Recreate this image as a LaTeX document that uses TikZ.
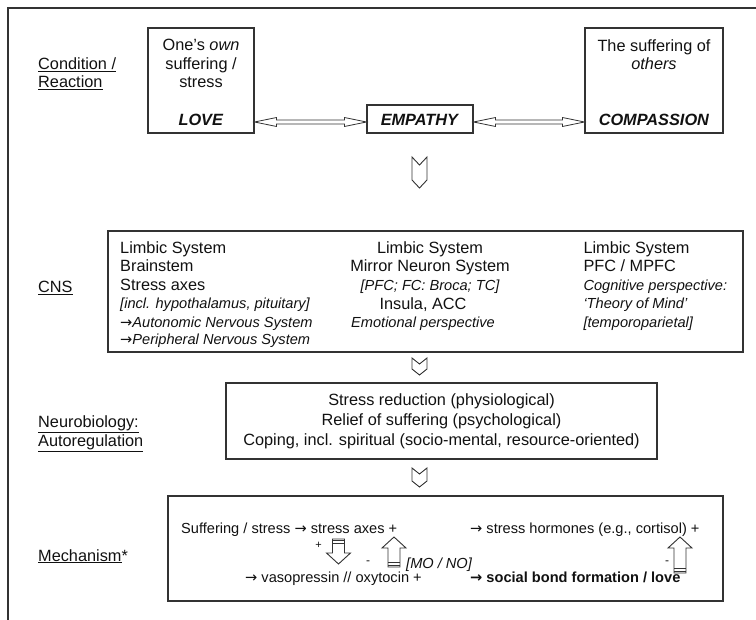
\documentclass[tikz,border=0pt]{standalone}
\usepackage{fontspec}
\setmainfont{Liberation Sans}
\newfontfamily\arrfont{DejaVu Sans}
\usetikzlibrary{calc}
\definecolor{ink}{HTML}{111111}
\definecolor{edge}{HTML}{333333}
\newcommand\mysmit{\fontsize{14.6}{18.6}\selectfont\itshape}
\newcommand\myarr{{\arrfont\char"2192}}
\tikzset{
  pics/blkarrow/.style={code={
    \draw[edge, line width=0.9pt, fill=white] (0,0) -- (12,11) -- (6,11) -- (6,#1) -- (-6,#1) -- (-6,11) -- (-12,11) -- cycle;
    \draw[edge, line width=1.5pt] (-6,#1-1.5) -- (6,#1-1.5) (-6,#1-4.5) -- (6,#1-4.5);
  }},
  pics/chev/.style 2 args={code={
    \draw[edge, line width=0.9pt, fill=white] (-7.5,-#1) -- (0,-#1+#2) -- (7.5,-#1) -- (7.5,#1-#2) -- (0,#1) -- (-7.5,#1-#2) -- cycle;
  }},
}
\begin{document}
\begin{tikzpicture}[x=1pt,y=-1pt,
  box/.style={draw=edge, line width=1.1pt, inner sep=0pt},
  txt/.style={inner sep=0pt, text=ink, font=\fontsize{16.3}{18.6}\selectfont},
  mtxt/.style={inner sep=0pt, text=ink, font=\fontsize{14.6}{18}\selectfont},
  dbl/.style={draw=edge, line width=0.8pt, fill=white},
]
\useasboundingbox (0,0) rectangle (756,620);
\draw[edge, line width=1.3pt] (756,8) -- (8,8) -- (8,620);

% boxes
\node[box, minimum width=106, minimum height=105] (love) at (201,80.5) {};
\node[box, minimum width=106, minimum height=28] (emp) at (420,119) {};
\node[box, minimum width=138, minimum height=105] (comp) at (654,80.5) {};
\node[box, minimum width=635, minimum height=121] (cns) at (425.5,291.5) {};
\node[box, minimum width=431, minimum height=76] (neuro) at (441.5,421) {};
\node[box, minimum width=555, minimum height=105] (mech) at (445.5,548.5) {};

% side labels
\node[txt, anchor=north west, align=left] (lcond) at (38,57.3) {\underline{Condition /}\\\underline{Reaction}};
\node[txt, anchor=north west] (lcns) at (38,281) {\underline{CNS}};
\node[txt, anchor=north west, align=left, font=\fontsize{16.3}{19}\selectfont] (lneuro) at (38,415) {\underline{Neurobiology:}\\\underline{Autoregulation}};
\node[txt, anchor=north west] (lmech) at (38,549) {\underline{Mechanism}*};

% top row texts
\node[txt, anchor=north, align=center] (lovet) at (201,39) {One’s \textit{own}\\suffering /\\stress};
\node[txt] (lovel) at (201,120) {\textbf{\textit{LOVE}}};
\node[txt] (empl) at (420,120) {\textbf{\textit{EMPATHY}}};
\node[txt, anchor=north, align=center] (compt) at (654,39) {The suffering of\\\textit{others}};
\node[txt] (compl) at (654,120) {\textbf{\textit{COMPASSION}}};

% double arrows
\path (love.east |- emp.west) ++(0,3) coordinate (a1);
\path (emp.west) ++(0,3) coordinate (a2);
\path (emp.east) ++(0,3) coordinate (b1);
\path (comp.west |- emp.east) ++(0,3) coordinate (b2);
\draw[dbl] (a1) -- ++(22,-4.5) -- ++(0,2.5) -- ($(a2)+(-22,-2)$) -- ++(0,-2.5) -- (a2) -- ++(-22,4.5) -- ++(0,-2.5) -- ($(a1)+(22,2)$) -- ++(0,2.5) -- cycle;
\draw[dbl] (b1) -- ++(22,-4.5) -- ++(0,2.5) -- ($(b2)+(-22,-2)$) -- ++(0,-2.5) -- (b2) -- ++(-22,4.5) -- ++(0,-2.5) -- ($(b1)+(22,2)$) -- ++(0,2.5) -- cycle;

% chevrons
\pic at (419.5,172.5) {chev={15.5}{8}};
\pic at (419.5,366.5) {chev={8.5}{6}};
\pic at (419.5,477.5) {chev={9.5}{6}};

% CNS texts
\node[txt, anchor=north west, align=left] (c1) at (120,241) {Limbic System\\Brainstem\\Stress axes\\{\mysmit [incl. hypothalamus, pituitary]}\\{\mysmit \myarr Autonomic Nervous System}\\[-2pt]{\mysmit \myarr Peripheral Nervous System}};
\node[txt, anchor=north, align=center] (c2a) at (430,241) {Limbic System\\Mirror Neuron System\\{\mysmit [PFC; FC: Broca; TC]}};
\node[txt, anchor=north, align=center] (c2b) at (423,297) {Insula, ACC\\{\mysmit Emotional perspective}};
\node[txt, anchor=north west, align=left] (c3) at (583.3,241) {Limbic System\\PFC / MPFC\\{\mysmit Cognitive perspective:}\\{\mysmit ‘Theory of Mind’}\\{\mysmit [temporoparietal]}};

% neuro texts
\node[txt, anchor=north, align=center, font=\fontsize{16.3}{20}\selectfont] (nt) at (441.5,393) {Stress reduction (physiological)\\Relief of suffering (psychological)\\Coping, incl. spiritual (socio-mental, resource-oriented)};

% mechanism texts
\node[mtxt, anchor=base west] (m1) at (181,533.5) {Suffering / stress \myarr{} stress axes +};
\node[mtxt, anchor=base west] (m2) at (470,533.5) {\myarr{} stress hormones (e.g., cortisol) +};
\node[mtxt, anchor=base west] (m3) at (245,582.5) {\myarr{} vasopressin // oxytocin +};
\node[mtxt, anchor=base west] (m4) at (470,582.5) {\bfseries\myarr{} social bond formation / love};
\node[mtxt, anchor=base west] (m5) at (406,568.5) {\textit{[MO / NO]}};
\node[inner sep=0pt, text=ink, font=\fontsize{11}{11}\selectfont] (p1) at (318.5,545) {+};
\node[inner sep=0pt, text=ink, font=\fontsize{12}{12}\selectfont] (n1) at (368,563) {-};
\node[inner sep=0pt, text=ink, font=\fontsize{12}{12}\selectfont] (n2) at (667,563) {-};

% block arrows
\pic[rotate=180] at (338.5,564) {blkarrow=25};
\pic at (394,537) {blkarrow=30};
\pic at (680,537) {blkarrow=36};
\end{tikzpicture}
\end{document}
